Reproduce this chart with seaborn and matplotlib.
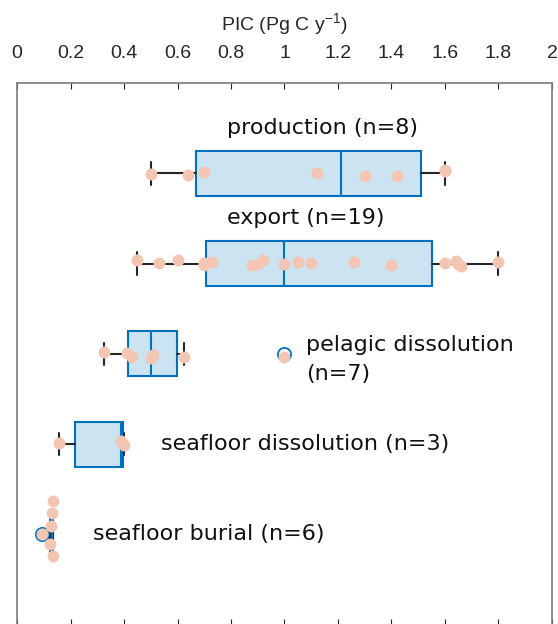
import numpy as np
import pandas as pd
import matplotlib
matplotlib.use("Agg")
import matplotlib.pyplot as plt
import seaborn as sns
from matplotlib.ticker import FuncFormatter

# PIC flux estimates (Pg C per year) grouped by process
categories = ["production", "export", "pelagic dissolution",
              "seafloor dissolution", "seafloor burial"]
production = [0.50, 0.64, 0.70, 1.12, 1.30, 1.42, 1.60, 1.60]
export = [0.45, 0.53, 0.60, 0.70, 0.70, 0.73, 0.88, 0.90, 0.92, 1.00,
          1.05, 1.10, 1.26, 1.40, 1.60, 1.64, 1.65, 1.66, 1.80]
pelagic_dissolution = [0.325, 0.41, 0.43, 0.50, 0.51, 0.625, 1.00]
seafloor_dissolution = [0.157, 0.39, 0.40]
seafloor_burial = [0.095, 0.123, 0.127, 0.131, 0.134, 0.136]
group_labels = ["production (n=8)", "export (n=19)",
                "pelagic dissolution\n(n=7)", "seafloor dissolution (n=3)",
                "seafloor burial (n=6)"]
x_ticks = [0, 0.2, 0.4, 0.6, 0.8, 1.0, 1.2, 1.4, 1.6, 1.8, 2.0]

groups = [production, export, pelagic_dissolution,
          seafloor_dissolution, seafloor_burial]
df = pd.DataFrame({
    "process": np.repeat(categories, [len(g) for g in groups]),
    "pic": np.concatenate(groups),
})

BLUE = "#0072BD"
BOX_FILL = "#cce3f2"
POINT = "#f3c6b4"

sns.set_style("white")
plt.rcParams["font.family"] = ["DejaVu Sans"]
plt.rcParams["mathtext.default"] = "regular"

fig = plt.figure(figsize=(5.58, 6.24), dpi=100)
ax = fig.add_axes([0.0305, -0.001, 0.9587, 0.868])

# individual estimates: light jitter for spread-out groups,
# a swarm where the values pile up on top of each other
np.random.seed(3)
spread = df[df["process"] != "seafloor burial"]
piled = df[df["process"] == "seafloor burial"]
sns.stripplot(data=spread, x="pic", y="process", order=categories, ax=ax,
              color=POINT, size=8.6, linewidth=0, jitter=0.045, zorder=4)
sns.swarmplot(data=piled, x="pic", y="process", order=categories, ax=ax,
              color=POINT, size=8.6, linewidth=0, zorder=4, warn_thresh=1)


def box_stats(vals):
    v = np.sort(np.asarray(vals, dtype=float))
    q1, med, q3 = np.percentile(v, [25, 50, 75], method="hazen")
    iqr = q3 - q1
    lo_f, hi_f = q1 - 1.5 * iqr, q3 + 1.5 * iqr
    inside = v[(v >= lo_f) & (v <= hi_f)]
    return dict(med=med, q1=q1, q3=q3, whislo=inside.min(),
                whishi=inside.max(), fliers=v[(v < lo_f) | (v > hi_f)])


stats = [box_stats(g) for g in groups]
ax.bxp(stats, positions=np.arange(len(groups)), widths=0.5,
       orientation="horizontal", patch_artist=True, manage_ticks=False,
       boxprops=dict(facecolor=BOX_FILL, edgecolor=BLUE, linewidth=1.5),
       medianprops=dict(color=BLUE, linewidth=1.5),
       whiskerprops=dict(color="#262626", linewidth=1.5),
       capprops=dict(color="#262626", linewidth=1.5),
       flierprops=dict(marker="o", markerfacecolor="none",
                       markeredgecolor=BLUE, markersize=9.5,
                       markeredgewidth=1.3),
       zorder=2)

# group labels
label_pos = [(0.785, -0.5), (0.785, 0.5), (1.08, 2.06), (0.54, 3.0),
             (0.285, 4.0)]
for (x, y), txt in zip(label_pos, group_labels):
    ax.text(x, y, txt, ha="left", va="center", fontsize=16,
            color="#111111", linespacing=1.55)

ax.set_xlim(0, 2)
ax.set_ylim(5, -1)
ax.set_yticks([])
ax.set_ylabel("")
ax.set_xticks(x_ticks)
ax.xaxis.set_major_formatter(FuncFormatter(lambda v, p: f"{v:g}"))
ax.xaxis.tick_top()
ax.xaxis.set_label_position("top")
ax.tick_params(axis="x", which="both", direction="in", length=4,
               width=0.8, color="#262626", top=True, bottom=True,
               labeltop=True, labelbottom=False, pad=15,
               labelsize=14, labelcolor="#262626")
for lab in ax.get_xticklabels():
    lab.set_family("Liberation Sans")
ax.set_xlabel("PIC (Pg C y$^{-1}$)", fontsize=14, family="Liberation Sans",
              color="#262626", labelpad=11)
for side in ["left", "right", "top", "bottom"]:
    ax.spines[side].set_visible(True)
    ax.spines[side].set_color("#7a7a7a")
    ax.spines[side].set_linewidth(1.2)

fig.savefig("out.png", dpi=100)
